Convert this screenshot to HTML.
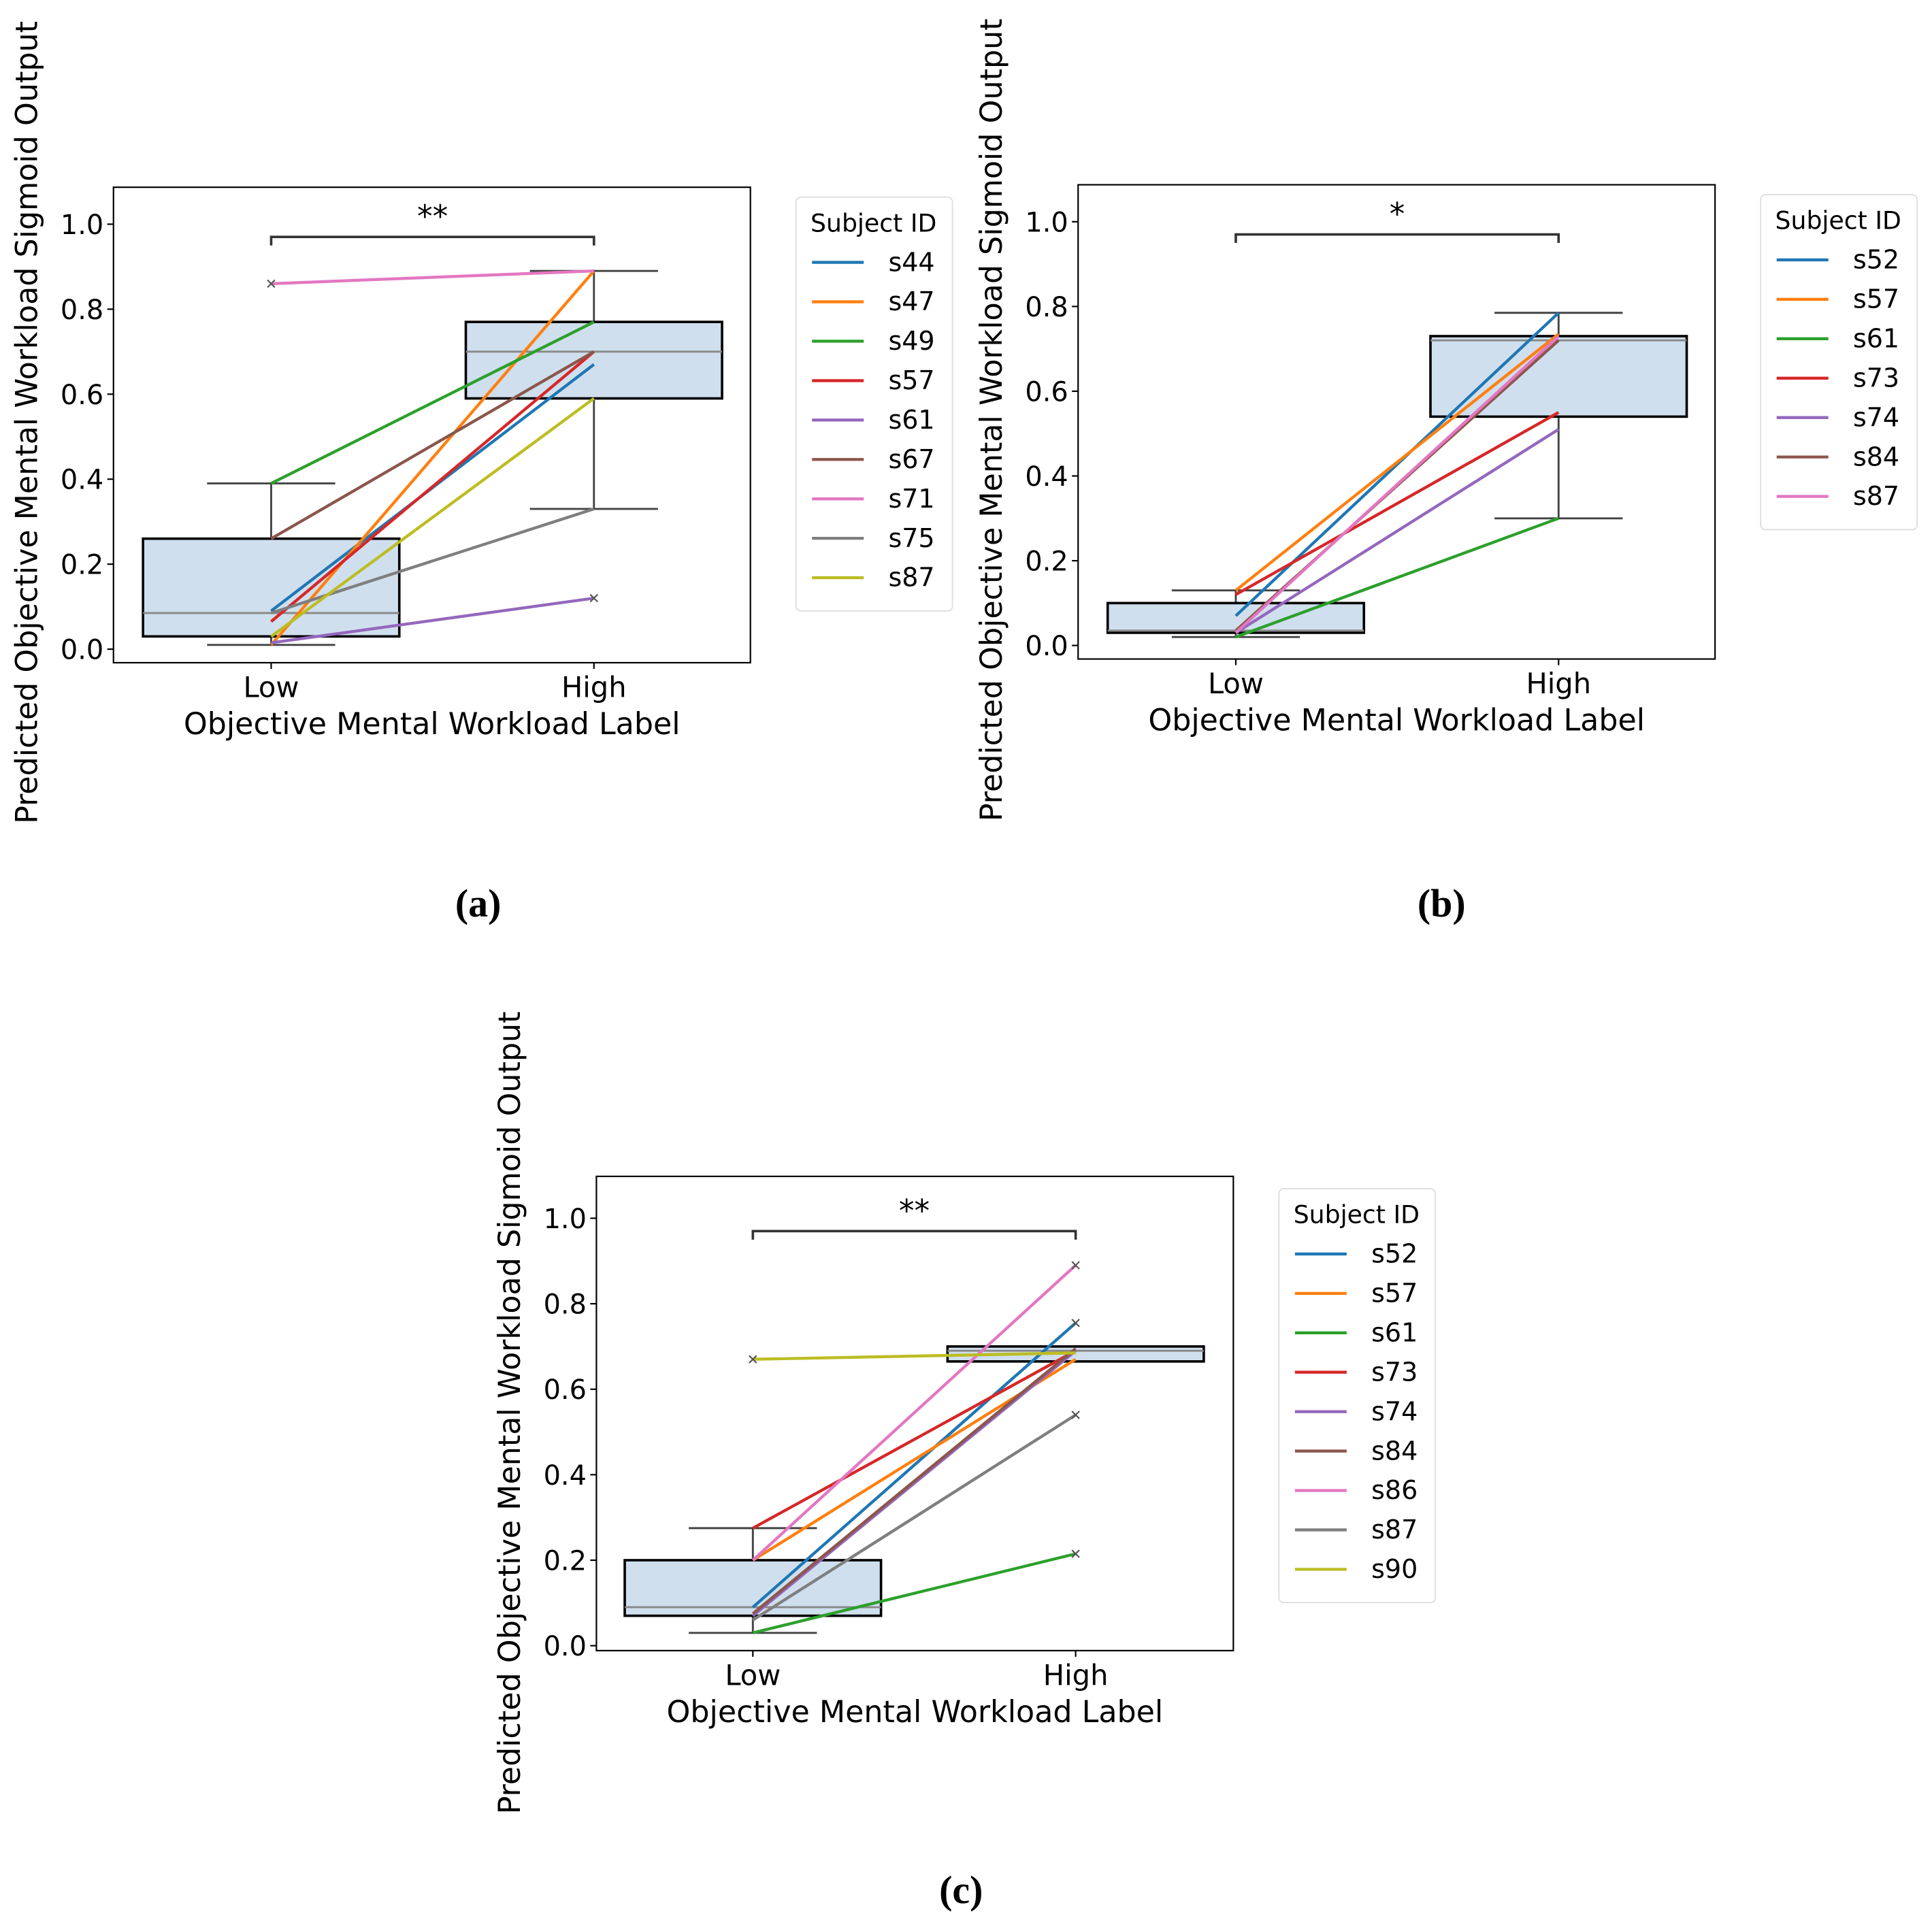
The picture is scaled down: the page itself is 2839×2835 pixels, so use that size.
<!DOCTYPE html>
<html><head><meta charset="utf-8"><style>
html,body{margin:0;padding:0;background:#fff;}
svg{display:block;font-family:"DejaVu Sans","Liberation Sans",sans-serif;}
</style></head><body>
<svg id="fig" width="2839" height="2835" viewBox="0 0 1568 1566" xmlns="http://www.w3.org/2000/svg"></svg>
<script>
const colors = ["#1f77b4","#ff7f0e","#2ca02c","#d62728","#9467bd","#8c564b","#e377c2","#7f7f7f","#bcbd22"];
const categories = ["Low","High"];
const yTicks = [0.0,0.2,0.4,0.6,0.8,1.0];
// panel a
const aSubjects = ["s44","s47","s49","s57","s61","s67","s71","s75","s87"];
const aLow  = [0.09,0.01,0.39,0.065,0.015,0.26,0.86,0.085,0.03];
const aHigh = [0.67,0.89,0.77,0.70,0.12,0.70,0.89,0.33,0.59];
const aBoxLow  = [0.01,0.03,0.085,0.26,0.39];
const aBoxHigh = [0.33,0.59,0.70,0.77,0.89];
// panel b
const bSubjects = ["s52","s57","s61","s73","s74","s84","s87"];
const bLow  = [0.07,0.13,0.02,0.12,0.03,0.035,0.03];
const bHigh = [0.785,0.735,0.30,0.55,0.51,0.72,0.73];
const bBoxLow  = [0.02,0.03,0.035,0.10,0.13];
const bBoxHigh = [0.30,0.54,0.72,0.73,0.785];
// panel c
const cSubjects = ["s52","s57","s61","s73","s74","s84","s86","s87","s90"];
const cLow  = [0.09,0.20,0.03,0.275,0.07,0.075,0.20,0.06,0.67];
const cHigh = [0.755,0.67,0.215,0.69,0.69,0.695,0.89,0.54,0.685];
const cBoxLow  = [0.03,0.07,0.09,0.20,0.275];
const cBoxHigh = [0.665,0.665,0.69,0.70,0.70];

const NS="http://www.w3.org/2000/svg";
const svg=document.getElementById('fig');
function mk(tag,attrs,parent,text){const e=document.createElementNS(NS,tag);for(const k in attrs)e.setAttribute(k,attrs[k]);if(text!==undefined)e.textContent=text;(parent||svg).appendChild(e);return e;}

function panel(cfg){
  const g=mk('g',{});
  
  
  const L=cfg.x0,R=cfg.x1,T=cfg.y0,B=cfg.y1;
  const yv=v=>cfg.zeroY-v*cfg.unit;
  const xc=i=>i===0?cfg.lowX:cfg.highX;
  [cfg.boxLow,cfg.boxHigh].forEach((b,i)=>{
    const cx=xc(i),hw=104,cw=52;
    const bg=mk('g',{},g);
    
    
    mk('line',{x1:cx,x2:cx,y1:yv(b[0]),y2:yv(b[1]),stroke:'#444','stroke-width':1.6},bg);
    mk('line',{x1:cx,x2:cx,y1:yv(b[3]),y2:yv(b[4]),stroke:'#444','stroke-width':1.6},bg);
    mk('line',{x1:cx-cw,x2:cx+cw,y1:yv(b[0]),y2:yv(b[0]),stroke:'#444','stroke-width':1.6},bg);
    mk('line',{x1:cx-cw,x2:cx+cw,y1:yv(b[4]),y2:yv(b[4]),stroke:'#444','stroke-width':1.6},bg);
    mk('rect',{x:cx-hw,y:yv(b[3]),width:2*hw,height:Math.max(1,yv(b[1])-yv(b[3])),fill:'#cfdfee',stroke:'#000','stroke-width':2},bg);
    mk('line',{x1:cx-hw,x2:cx+hw,y1:yv(b[2]),y2:yv(b[2]),stroke:'#888','stroke-width':1.6},bg);
  });
  cfg.subjects.forEach((s,k)=>{
    const l=mk('line',{x1:xc(0),y1:yv(cfg.low[k]),x2:xc(1),y2:yv(cfg.high[k]),stroke:colors[k],'stroke-width':2.4},g);
    
    
  });
  (cfg.markers||[]).forEach(m=>{
    const x=xc(m[1]),y=yv(m[1]===0?cfg.low[m[0]]:cfg.high[m[0]]);
    const mg=mk('g',{stroke:'#555','stroke-width':1.2},g);
    
    
    mk('line',{x1:x-3,y1:y-3,x2:x+3,y2:y+3},mg);mk('line',{x1:x-3,y1:y+3,x2:x+3,y2:y-3},mg);
  });
  const fr=mk('rect',{x:L,y:T,width:R-L,height:B-T,fill:'none',stroke:'#000','stroke-width':1.2},g);
  
  
  yTicks.forEach(t=>{
    const y=yv(t);
    mk('line',{x1:L-5,x2:L,y1:y,y2:y,stroke:'#000','stroke-width':1.2},g);
    const tx=mk('text',{x:L-8,y:y+8,'text-anchor':'end','font-size':22},g,t.toFixed(1));
    
    
  });
  categories.forEach((c,i)=>{
    mk('line',{x1:xc(i),x2:xc(i),y1:B,y2:B+5,stroke:'#000','stroke-width':1.2},g);
    const tx=mk('text',{x:xc(i),y:B+28,'text-anchor':'middle','font-size':23},g,c);
    
    
  });
  const xl=mk('text',{x:(L+R)/2,y:B+58,'text-anchor':'middle','font-size':24.5},g,'Objective Mental Workload Label');
  
  
  const yl=mk('text',{x:0,y:0,'text-anchor':'middle','font-size':24.5,transform:`translate(${L-62},${cfg.yLabelMid}) rotate(-90)`},g,'Predicted Objective Mental Workload Sigmoid Output');
  
  
  const by=yv(0.97),bt=yv(0.95);
  const br=mk('path',{d:`M${xc(0)},${bt} L${xc(0)},${by} L${xc(1)},${by} L${xc(1)},${bt}`,fill:'none',stroke:'#333','stroke-width':2},g);
  
  
  const st=mk('text',{x:(xc(0)+xc(1))/2,y:by-8,'text-anchor':'middle','font-size':25},g,cfg.sig);
  
  
  const lg=mk('g',{},g);
  
  
  const lx=cfg.legX,lt=cfg.legY,lh=48+cfg.subjects.length*32;
  mk('rect',{x:lx,y:lt,width:127,height:lh,rx:4,fill:'#fff',stroke:'#ddd','stroke-width':1},lg);
  mk('text',{x:lx+63,y:lt+28,'text-anchor':'middle','font-size':20},lg,'Subject ID');
  cfg.subjects.forEach((s,k)=>{
    const yy=lt+53+k*32;
    const e=mk('g',{},lg);
    
    
    mk('line',{x1:lx+13,x2:lx+55,y1:yy,y2:yy,stroke:colors[k],'stroke-width':2.4},e);
    mk('text',{x:lx+75,y:yy+7,'font-size':21},e,s);
  });
  const cap=mk('text',{x:cfg.capX,y:cfg.capY,'text-anchor':'middle','font-size':32,'font-weight':'bold','font-family':'"Liberation Serif",serif'},g,'('+cfg.id+')');
  
  
}
panel({id:'a',x0:92,x1:609,y0:152,y1:538,zeroY:527,unit:345,lowX:220,highX:482,boxLow:aBoxLow,boxHigh:aBoxHigh,subjects:aSubjects,low:aLow,high:aHigh,markers:[[6,0],[4,1]],sig:'**',legX:646,legY:160,capX:388,capY:744,yLabelMid:343});
panel({id:'b',x0:875,x1:1392,y0:150,y1:535,zeroY:524,unit:344,lowX:1003,highX:1265,boxLow:bBoxLow,boxHigh:bBoxHigh,subjects:bSubjects,low:bLow,high:bHigh,markers:[],sig:'*',legX:1429,legY:158,capX:1170,capY:744,yLabelMid:341});
panel({id:'c',x0:484,x1:1001,y0:955,y1:1340,zeroY:1336,unit:347,lowX:611,highX:873,boxLow:cBoxLow,boxHigh:cBoxHigh,subjects:cSubjects,low:cLow,high:cHigh,markers:[[8,0],[0,1],[2,1],[6,1],[7,1]],sig:'**',legX:1038,legY:965,capX:780,capY:1545,yLabelMid:1147});
</script>
</body></html>
